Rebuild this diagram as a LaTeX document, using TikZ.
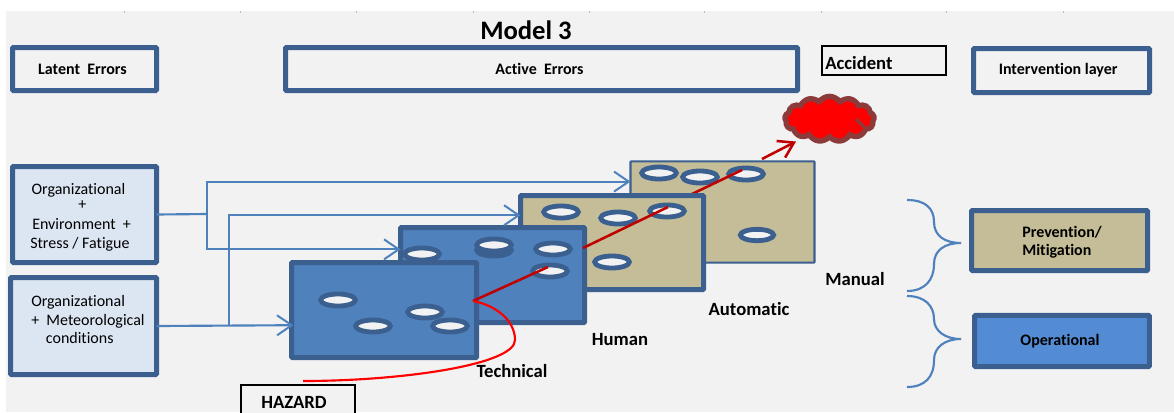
\documentclass[tikz,border=0pt]{standalone}
\usepackage{fontspec}
\setmainfont[Ligatures=NoCommon]{Carlito}
\usetikzlibrary{arrows.meta,calc,shapes.symbols,shapes.geometric}
\definecolor{pagebg}{HTML}{F2F2F2}
\definecolor{edgeblue}{HTML}{3B6090}
\definecolor{linkblue}{HTML}{4F81BD}
\definecolor{layerblue}{HTML}{4F81BD}
\definecolor{tan}{HTML}{C4BD97}
\definecolor{paleblue}{HTML}{DCE6F2}
\definecolor{opblue}{HTML}{538CD5}
\definecolor{darkred}{HTML}{C00000}
\definecolor{cloudedge}{HTML}{8C3A3A}
\tikzset{
  px/.style={x=0.75pt,y=-0.75pt},
  boxbase/.style={rectangle,draw=edgeblue,line width=3.75pt,outer sep=0pt,inner sep=0pt,rounded corners=0.6pt},
  headbox/.style={boxbase,fill=pagebg,font=\fontsize{12}{14}\selectfont\bfseries},
  sidebox/.style={boxbase,fill=paleblue},
  layer/.style={boxbase,fill=layerblue},
  tanlayer/.style={boxbase,fill=tan},
  blackbox/.style={rectangle,draw=black,line width=1.5pt,outer sep=0pt,inner sep=0pt,fill=pagebg},
  hole/.style={ellipse,draw=edgeblue,fill=pagebg,line width=3.6pt,minimum width=26pt,minimum height=9pt,inner sep=0pt},
  conn/.style={draw=linkblue,line width=1.6pt},
  arr/.style={conn,-{Straight Barb[length=11pt,width=15pt,line width=1.5pt]}},
  redseg/.style={draw=darkred,line width=1.9pt},
  brace/.style={draw=linkblue,line width=1.6pt},
  caption/.style={font=\fontsize{14}{16}\selectfont\bfseries,inner sep=0pt},
  sidetext/.style={font=\fontsize{12}{13.7}\selectfont,inner sep=0pt,align=left,anchor=west},
}
\newcommand{\boxat}[7]{\node[#1,minimum width=#5*0.75pt-3.75pt,minimum height=#6*0.75pt-3.75pt] (#2) at (#3,#4) {#7};}
\begin{document}
\begin{tikzpicture}[px]
\useasboundingbox (0,0) rectangle (1174,412);
\clip (0,0) rectangle (1174,412);
\fill[white] (0,0) rectangle (1174,412);
\fill[pagebg] (6,11) rectangle (1174,412);
\foreach \tx in {124,240,356,473,589,704,821,946,1063}
  \draw[black!25,line width=0.6pt] (\tx,11) -- (\tx,13);

\node[caption,font=\fontsize{20}{24}\selectfont\bfseries] (title) at (526,30) {Model 3};

\boxat{headbox}{latent}{84.5}{69}{149}{48}{\raisebox{-1pt}{\hspace*{-3pt}Latent\ \ Errors}}
\boxat{headbox}{active}{541.5}{69}{517}{48}{\raisebox{-1pt}{\hspace*{-3pt}Active\ \ Errors}}
\boxat{headbox}{interv}{1061.5}{70.5}{181}{49}{\raisebox{-1pt}{\hspace*{-5pt}Intervention layer}}

\node[blackbox,minimum width=94.5pt-1.5pt,minimum height=23.6pt-1.5pt] (accident) at (884,60.5) {};
\node[caption,anchor=west] (accidenttext) at (825,63) {Accident};

\node[cloud,cloud puffs=13,cloud puff arc=110,aspect=2,draw=cloudedge,fill=red,line width=4pt,minimum width=67pt,minimum height=34pt,inner sep=0pt,outer sep=0pt] (cloud) at (829.5,119) {};
\draw[cloudedge,line width=2.4pt] (856,119) .. controls (859,122) and (861,124) .. (864,127);

% Layers, back to front
\node[tanlayer,line width=1.6pt,minimum width=138pt,minimum height=76pt] (manual) at (722.5,212) {};
\node[hole] (m1) at (659,173) {};
\node[hole] (m2) at (700,177) {};
\node[hole] (m3) at (746,174) {};
\node[hole,minimum width=25pt,minimum height=8.5pt] (m4) at (757,235) {};
\draw[redseg] (692,194) -- (742,170);

\boxat{tanlayer}{automatic}{612}{242.5}{188}{99}{}
\node[hole] (a1) at (561,212) {};
\node[hole] (a2) at (618,218) {};
\node[hole] (a3) at (667,211) {};
\node[hole] (a4) at (612,262) {};

\boxat{layer}{human}{492.5}{275}{189}{100}{}
\node[hole] (h1) at (422,254) {};
\node[hole,fill=edgeblue,yshift=-1.5pt] (h2b) at (494,248) {};
\node[hole,yshift=1.5pt] (h2) at (494,247) {};
\node[hole] (h3) at (553,249) {};
\node[hole] (h4) at (550,271) {};

\boxat{layer}{technical}{384}{310}{190}{100}{}
\node[hole] (t1) at (338,300) {};
\node[hole] (t2) at (373,326) {};
\node[hole] (t3) at (425,312) {};
\node[hole] (t4) at (450,326) {};

% Red path through the layers
\coordinate (r1) at (473,301);
\coordinate (r2) at (548,267);
\coordinate (r3) at (583,248);
\coordinate (r4) at (668,207);
\coordinate (r5) at (762,159);
\draw[redseg] (r1) -- (r2);
\draw[redseg] (r3) -- (r4);
\draw[redseg,-{Straight Barb[length=11pt,width=14pt,line width=1.9pt]}] (r5) -- (796,141.5);

% Side boxes
\boxat{sidebox}{org1}{84.5}{214.5}{149}{101}{}
\boxat{sidebox}{org2}{83.5}{326}{151}{102}{}
\node[sidetext] (org1text) at (30,217) {\hspace*{1pt}Organizational\\[-2pt]\hspace*{36pt}+\\[1.5pt]\hspace*{1.5pt}Environment\ \ +\\Stress / Fatigue};
\node[sidetext] (org2text) at (31,319.5) {Organizational\\+\ \ Meteorological\\\hspace*{11pt}conditions};

\boxat{tanlayer}{prevention}{1059.5}{240.5}{181}{65}{}
\node[caption,anchor=west,align=left,font=\fontsize{12}{13.5}\selectfont\bfseries] (preventiontext) at (1022,242.5) {Prevention/\\Mitigation};
\node[boxbase,fill=opblue,minimum width=131pt,minimum height=38.3pt,font=\fontsize{12}{14}\selectfont\bfseries] (operational) at (1062,341) {\raisebox{-1.5pt}{\hspace*{-3pt}Operational}};

% Connectors
\coordinate (j1) at (207,214);
\coordinate (j2) at (229,326);
\draw[conn] (org1.east) -- (j1);
\draw[arr] (j1) |- ($(manual.north west)!0.2!(manual.south west)$);
\draw[arr] (j1) |- ($(human.north west)!0.23!(human.south west)$);
\draw[arr] (org2.east) -- ($(technical.north west)!0.66!(technical.south west)+(2,0)$);
\draw[arr] (j2) |- ($(automatic.north west)!0.21!(automatic.south west)$);

% Hazard
\node[blackbox,minimum width=87pt-1.5pt,minimum height=30pt] (hazard) at (298,405) {};
\node[caption] (hazardtext) at (294,402) {HAZARD};
\coordinate (hz) at (303,381);
\draw[red,line width=1.6pt] (hz) .. controls (400,381) and (515,365) .. (515,340) .. controls (515,320) and (495,305) .. (r1);

% Layer captions
\node[caption] (ltech) at (512,371) {Technical};
\node[caption] (lhum) at (620,340) {Human};
\node[caption] (laut) at (749,309) {Automatic};
\node[caption] (lman) at (855,279) {Manual};

% Braces
\draw[brace] (907,200) .. controls (925,200) and (934,208) .. (934,222) .. controls (934,236) and (945,243) .. (961,243) .. controls (945,243) and (934,250) .. (934,264) .. controls (934,280) and (925,291) .. (907,291);
\draw[brace] (907,296) .. controls (925,296) and (934,306) .. (934,319) .. controls (934,331) and (945,339) .. (961,339) .. controls (945,339) and (934,347) .. (934,360) .. controls (934,377) and (925,387) .. (907,387);
\end{tikzpicture}
\end{document}
